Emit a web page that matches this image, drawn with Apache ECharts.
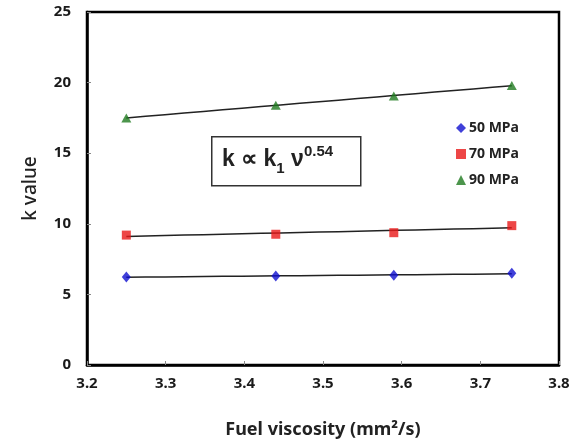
<!DOCTYPE html>
<html>
<head>
<meta charset="utf-8">
<script src="https://cdn.jsdelivr.net/npm/echarts@6/dist/echarts.min.js"></script>
<style>
    html, body { margin: 0; padding: 0; background: #fff; }
    #chart { width: 579px; height: 446px; }
</style>
</head>
<body>
<div id="chart"></div>
<script>
// data
const viscosity = [3.25, 3.44, 3.59, 3.74];
const k50 = [6.23, 6.3, 6.35, 6.49];
const k70 = [9.2, 9.26, 9.37, 9.87];
const k90 = [17.5, 18.4, 19.05, 19.8];
const seriesNames = ['50 MPa', '70 MPa', '90 MPa'];
const xTicks = [3.2, 3.3, 3.4, 3.5, 3.6, 3.7, 3.8];
const yTicks = [0, 5, 10, 15, 20, 25];

const font = '"Noto Sans", "Open Sans", sans-serif';

// power-law trend line k = a * v^b, fitted in log space
function powerFit (xs, ys) {
    const lx = xs.map(Math.log), ly = ys.map(Math.log);
    const n = xs.length;
    const mx = lx.reduce((a, b) => a + b, 0) / n;
    const my = ly.reduce((a, b) => a + b, 0) / n;
    let sxy = 0, sxx = 0;
    for (let i = 0; i < n; i++) {
        sxy += (lx[i] - mx) * (ly[i] - my);
        sxx += (lx[i] - mx) * (lx[i] - mx);
    }
    const b = sxy / sxx;
    const a = Math.exp(my - b * mx);
    const x0 = Math.min(...xs), x1 = Math.max(...xs);
    const pts = [];
    for (let i = 0; i <= 20; i++) {
        const x = x0 + (x1 - x0) * i / 20;
        pts.push([x, a * Math.pow(x, b)]);
    }
    return pts;
}

function pairs (ys) {
    return viscosity.map((x, i) => [x, ys[i]]);
}

const chart = echarts.init(document.getElementById('chart'));

const trendStyle = {
    type: 'line',
    showSymbol: false,
    symbol: 'none',
    silent: true,
    lineStyle: { color: '#222', width: 1.5 },
    z: 1
};

const option = {
    animation: false,
    grid: {
        left: 87,
        right: 20,
        top: 12,
        bottom: 81,
        show: true,
        borderColor: '#000',
        borderWidth: 2.5
    },
    legend: {
        data: seriesNames,
        orient: 'vertical',
        left: 451,
        top: 116,
        itemGap: 12,
        itemWidth: 10,
        itemHeight: 10,
        textStyle: { fontFamily: font, fontWeight: 'bold', fontSize: 14, color: '#222', padding: [0, 0, 0, -2] }
    },
    xAxis: {
        type: 'value',
        min: xTicks[0],
        max: xTicks[xTicks.length - 1],
        interval: 0.1,
        name: 'Fuel viscosity (mm²/s)',
        nameLocation: 'middle',
        nameGap: 56,
        nameTextStyle: { fontFamily: font, fontSize: 18, fontWeight: 'bold', color: '#222' },
        axisLine: { lineStyle: { color: '#000', width: 2.5 } },
        axisTick: { inside: true, length: 4, lineStyle: { color: '#888' } },
        axisLabel: {
            margin: 11,
            fontFamily: font,
            fontWeight: 'bold',
            fontSize: 15,
            color: '#1a1a1a',
            formatter: v => v.toFixed(1)
        },
        splitLine: { show: false }
    },
    yAxis: {
        type: 'value',
        min: yTicks[0],
        max: yTicks[yTicks.length - 1],
        interval: 5,
        name: 'k value',
        nameLocation: 'middle',
        nameGap: 47,
        nameTextStyle: { fontFamily: font, fontSize: 19, fontWeight: 500, color: '#222' },
        axisLine: { show: true, lineStyle: { color: '#000', width: 2.5 } },
        axisTick: { show: true, inside: true, length: 4, lineStyle: { color: '#888' } },
        axisLabel: { margin: 16, fontFamily: font, fontWeight: 'bold', fontSize: 15, color: '#1a1a1a' },
        splitLine: { show: false }
    },
    graphic: [
        {
            type: 'rect',
            left: 211,
            top: 136,
            shape: { width: 149, height: 49 },
            style: { fill: '#fff', stroke: '#333', lineWidth: 1.5 },
            z: 10
        },
        {
            type: 'text',
            left: 222,
            top: 144,
            z: 11,
            style: {
                text: '{m|k ∝ k}{s|1}{m| ν}{p|0.54}',
                fontFamily: font,
                rich: {
                    m: { fontSize: 23, fontWeight: 'bold', fill: '#222', lineHeight: 32, verticalAlign: 'middle' },
                    s: { fontSize: 15, fontWeight: 'bold', fill: '#222', lineHeight: 32, verticalAlign: 'bottom' },
                    p: { fontSize: 15, fontWeight: 'bold', fill: '#222', lineHeight: 32, verticalAlign: 'top' }
                }
            }
        }
    ],
    series: [
        Object.assign({ name: 'trend50', data: powerFit(viscosity, k50) }, trendStyle),
        Object.assign({ name: 'trend70', data: powerFit(viscosity, k70) }, trendStyle),
        Object.assign({ name: 'trend90', data: powerFit(viscosity, k90) }, trendStyle),
        {
            name: seriesNames[0],
            type: 'scatter',
            symbol: 'diamond',
            symbolSize: [9, 11],
            itemStyle: { color: '#1010d0' },
            data: pairs(k50),
            z: 5
        },
        {
            name: seriesNames[1],
            type: 'scatter',
            symbol: 'rect',
            symbolSize: 9,
            itemStyle: { color: '#e81818' },
            data: pairs(k70),
            z: 5
        },
        {
            name: seriesNames[2],
            type: 'scatter',
            symbol: 'triangle',
            symbolSize: [10, 9],
            itemStyle: { color: '#1f7a1f' },
            data: pairs(k90),
            z: 5
        }
    ]
};

chart.setOption(option);

window.addEventListener('resize', function () {
    chart.resize();
});
</script>
</body>
</html>
